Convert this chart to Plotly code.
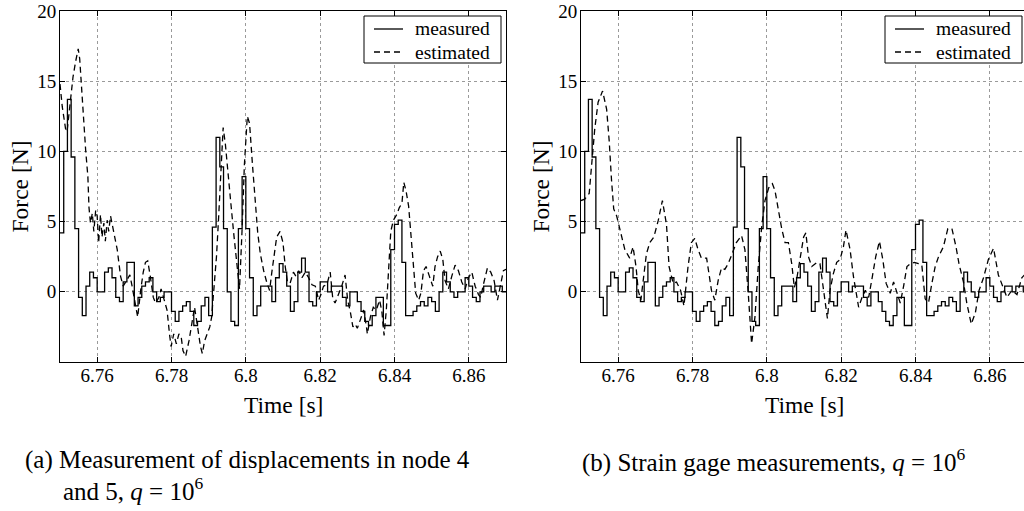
import plotly.graph_objects as go

W, H = 1024, 511

# ---------------- data ----------------
meas_t0 = 6.750
meas_dt = 0.001
measured = [
    4.2, 10.0, 13.7, 9.6, 4.5, -0.4, -1.7, 0.4, 1.4, 1.0,      # 6.750-6.759
    0.0, 0.0, 1.4, 1.7, 1.0, -0.4, -0.7, 0.7, 2.1, 2.1,        # 6.760-6.769
    -1.0, -0.4, 0.4, 0.7, 1.0, 0.0, -0.7, -0.4, 0.0, 0.0,      # 6.770-6.779
    -1.4, -2.1, -1.4, -1.0, -0.7, -1.4, -2.4, -2.1, -1.0, -0.4,  # 6.780-6.789
    -1.7, 4.6, 11.0, 8.9, 4.5, 0.0, -2.1, -2.4, 4.5, 8.2,      # 6.790-6.799
    4.5, 1.0, -1.7, -1.0, 0.4, 0.4, 0.4, -0.7, 1.0, 2.0,       # 6.800-6.809
    1.4, 0.4, -1.4, -0.7, 1.4, 2.4, 1.4, -0.7, -1.0, 0.0,      # 6.810-6.819
    0.7, 0.7, 0.0, 0.4, 0.4, 0.4, -0.4, -1.0, 0.0, 0.0,        # 6.820-6.829
    -0.7, -1.4, -2.1, -2.4, -1.7, -0.4, -0.4, -2.4, -2.4, 3.0,  # 6.830-6.839
    4.8, 5.1, 2.1, -1.7, -1.7, -1.4, -1.0, -0.7, -1.0, -0.4,   # 6.840-6.849
    -0.7, -1.4, 0.0, 1.4, 0.7, 0.0, -0.4, 0.0, 0.0, 1.0,       # 6.850-6.859
    0.4, -0.4, -0.7, 0.0, 0.4, 0.4, 0.0, 0.4, 0.4, 0.0,        # 6.860-6.869
    0.0,                                                       # 6.870
]
time_meas = [round(meas_t0 + meas_dt * i, 4) for i in range(len(measured))]

est_a_t = [
    6.7500, 6.7506, 6.7515, 6.7519, 6.7528, 6.7535, 6.7542, 6.7549, 6.7553, 6.7557,
    6.7562, 6.7569, 6.7575, 6.7578, 6.7582, 6.7587, 6.7591, 6.7596, 6.7600, 6.7604,
    6.7609, 6.7613, 6.7618, 6.7622, 6.7627, 6.7631, 6.7636, 6.7645, 6.7654, 6.7663,
    6.7670, 6.7679, 6.7688, 6.7694, 6.7703, 6.7709, 6.7717, 6.7724, 6.7730, 6.7736,
    6.7743, 6.7751, 6.7757, 6.7766, 6.7772, 6.7779, 6.7788, 6.7795, 6.7799, 6.7806,
    6.7813, 6.7820, 6.7826, 6.7831, 6.7838, 6.7847, 6.7856, 6.7862, 6.7869, 6.7878,
    6.7883, 6.7889, 6.7896, 6.7903, 6.7908, 6.7914, 6.7921, 6.7927, 6.7934, 6.7939,
    6.7945, 6.7950, 6.7959, 6.7968, 6.7977, 6.7983, 6.7990, 6.7996, 6.8004, 6.8010,
    6.8018, 6.8026, 6.8032, 6.8039, 6.8048, 6.8057, 6.8064, 6.8070, 6.8076, 6.8083,
    6.8092, 6.8100, 6.8106, 6.8112, 6.8119, 6.8128, 6.8135, 6.8142, 6.8151, 6.8160,
    6.8169, 6.8178, 6.8187, 6.8196, 6.8202, 6.8209, 6.8218, 6.8227, 6.8234, 6.8240,
    6.8249, 6.8258, 6.8267, 6.8274, 6.8281, 6.8288, 6.8294, 6.8300, 6.8308, 6.8317,
    6.8324, 6.8327, 6.8335, 6.8343, 6.8351, 6.8360, 6.8366, 6.8372, 6.8378, 6.8384,
    6.8390, 6.8397, 6.8406, 6.8413, 6.8420, 6.8425, 6.8431, 6.8438, 6.8444, 6.8451,
    6.8457, 6.8465, 6.8471, 6.8478, 6.8485, 6.8494, 6.8503, 6.8509, 6.8516, 6.8523,
    6.8530, 6.8536, 6.8545, 6.8554, 6.8563, 6.8572, 6.8581, 6.8590, 6.8599, 6.8608,
    6.8617, 6.8626, 6.8632, 6.8639, 6.8650, 6.8659, 6.8668, 6.8677, 6.8686, 6.8693,
    6.8700,
]
est_a_f = [
    14.8, 13.2, 11.6, 11.4, 13.6, 15.3, 16.4, 17.3, 16.6, 14.8,
    12.5, 10.1, 8.2, 6.0, 4.9, 5.6, 4.3, 5.8, 5.4, 3.5,
    5.5, 3.9, 4.9, 3.6, 5.1, 4.3, 5.4, 4.3, 3.0, 1.1,
    0.4, 0.8, 1.2, 0.4, -1.1, -1.8, 0.1, 1.4, 2.1, 2.2,
    1.1, -0.4, -0.8, -0.4, 0.2, -0.4, -1.3, -3.1, -3.9, -3.0,
    -3.7, -3.0, -3.2, -4.2, -4.6, -3.5, -2.0, -1.1, -2.3, -3.9,
    -4.4, -3.5, -3.0, -2.5, -1.8, 0.1, 2.5, 5.4, 9.5, 11.7,
    10.5, 8.9, 6.5, 4.0, 1.5, 0.2, 4.5, 9.0, 12.5, 12.0,
    9.0, 6.0, 4.2, 2.7, 1.5, 0.6, 0.1, 1.4, 2.6, 3.9,
    4.3, 3.5, 1.8, 0.7, 0.6, 1.4, 1.1, 1.5, 1.0, 1.4,
    1.0, 0.5, 0.4, -0.6, -0.2, 0.4, 0.5, 1.4, -0.5, -0.8,
    -0.2, 0.4, 1.2, -0.6, -1.4, -2.5, -2.3, -2.6, -2.0, -1.3,
    -2.4, -3.0, -1.8, -1.1, -1.3, -0.6, -1.4, -3.1, -1.3, 1.5,
    4.3, 5.1, 5.5, 6.0, 6.3, 7.8, 7.2, 6.1, 4.2, 2.0,
    -0.1, -0.6, -0.1, 1.5, 1.8, 1.1, 0.4, 1.8, 2.5, 2.9,
    2.3, 0.8, 0.2, 1.1, 1.9, 1.5, 0.7, 0.2, 1.0, 1.4,
    0.4, -0.2, -0.4, 0.5, 1.7, 1.4, 0.8, -0.6, 0.6, 1.5,
    1.6,
]

est_b_t = [
    6.7500, 6.7510, 6.7522, 6.7528, 6.7537, 6.7546, 6.7558, 6.7569, 6.7576, 6.7582,
    6.7588, 6.7596, 6.7604, 6.7618, 6.7631, 6.7640, 6.7648, 6.7654, 6.7661, 6.7669,
    6.7676, 6.7685, 6.7696, 6.7708, 6.7719, 6.7730, 6.7737, 6.7748, 6.7757, 6.7768,
    6.7777, 6.7788, 6.7797, 6.7806, 6.7815, 6.7824, 6.7838, 6.7851, 6.7860, 6.7869,
    6.7878, 6.7887, 6.7896, 6.7905, 6.7918, 6.7932, 6.7941, 6.7950, 6.7959, 6.7968,
    6.7977, 6.7986, 6.7995, 6.8005, 6.8015, 6.8022, 6.8029, 6.8040, 6.8049, 6.8058,
    6.8067, 6.8074, 6.8081, 6.8090, 6.8099, 6.8105, 6.8112, 6.8121, 6.8135, 6.8143,
    6.8152, 6.8163, 6.8170, 6.8179, 6.8188, 6.8197, 6.8206, 6.8213, 6.8224, 6.8233,
    6.8247, 6.8256, 6.8265, 6.8274, 6.8284, 6.8293, 6.8303, 6.8312, 6.8321, 6.8332,
    6.8341, 6.8350, 6.8359, 6.8368, 6.8377, 6.8386, 6.8397, 6.8408, 6.8417, 6.8426,
    6.8435, 6.8444, 6.8453, 6.8462, 6.8475, 6.8487, 6.8498, 6.8509, 6.8517, 6.8529,
    6.8538, 6.8550, 6.8561, 6.8571, 6.8583, 6.8596, 6.8610, 6.8623, 6.8637, 6.8646,
    6.8659, 6.8673, 6.8686, 6.8700,
]
est_b_f = [
    6.5, 6.6, 7.0, 8.8, 11.6, 13.5, 14.3, 13.0, 10.7, 8.0,
    5.9, 5.4, 4.6, 3.0, 2.4, 3.2, 1.8, 0.1, -0.6, 1.1,
    2.7, 3.5, 3.9, 5.1, 6.5, 4.8, 1.8, 0.6, 0.7, 0.1,
    -1.0, 1.8, 3.5, 3.8, 3.0, 2.4, 2.4, 0.1, -0.6, 0.8,
    1.7, 1.6, 2.0, 2.6, 3.5, 4.0, 3.0, -0.1, -3.7, -1.8,
    1.8, 4.6, 6.5, 7.4, 7.7, 7.2, 6.1, 4.5, 3.5, 3.5,
    2.0, 0.3, 1.0, 2.3, 3.9, 4.2, 2.5, 1.8, 2.1, 2.0,
    0.1, -1.9, 0.1, 1.3, 2.1, 2.3, 3.2, 4.4, 3.0, 1.1,
    -1.1, -0.4, 0.1, -0.4, 1.1, 2.5, 3.6, 2.3, 0.6, -0.1,
    0.7, 0.0, -0.8, 0.4, 1.8, 2.0, 2.1, 2.0, 1.9, -0.5,
    -0.8, 0.6, 1.8, 2.5, 3.2, 4.5, 4.5, 3.2, 2.0, 0.7,
    -0.8, -2.3, -1.5, 0.1, 1.0, 2.3, 3.1, 1.2, 0.2, -0.4,
    0.1, -0.2, 1.0, 1.4,
]

x_tickvals = [6.76, 6.78, 6.80, 6.82, 6.84, 6.86]
x_ticktext = ["6.76", "6.78", "6.8", "6.82", "6.84", "6.86"]
y_tickvals = [0, 5, 10, 15, 20]
y_ticktext = ["0", "5", "10", "15", "20"]
series_names = ["measured", "estimated"]
x_title = "Time [s]"
y_title = "Force [N]"
caption_a1 = "(a) Measurement of displacements in node 4"
caption_a2 = "and 5, <i>q</i> = 10<sup>6</sup>"
caption_b = "(b) Strain gage measurements, <i>q</i> = 10<sup>6</sup>"

# ---------------- layout geometry ----------------
FONT = "Liberation Serif, Times New Roman, serif"
px_x = lambda p: p / W
px_y = lambda p: 1 - p / H

plot_top, plot_bot = 11, 362
ax1_l, ax1_r = 60, 506
ax2_l = 581
px_per_s = (ax1_r - ax1_l) / 0.12
x2_max = 6.75 + (W - ax2_l) / px_per_s

fig = go.Figure()

line_solid = dict(color="black", width=1.3)
line_dash = dict(color="black", width=1.3, dash="6px,4px")

fig.add_trace(go.Scatter(x=time_meas, y=measured, mode="lines", line=line_solid,
                         line_shape="hv", name=series_names[0], xaxis="x", yaxis="y"))
fig.add_trace(go.Scatter(x=est_a_t, y=est_a_f, mode="lines", line=line_dash,
                         name=series_names[1], xaxis="x", yaxis="y"))
fig.add_trace(go.Scatter(x=time_meas, y=measured, mode="lines", line=line_solid,
                         line_shape="hv", name=series_names[0], xaxis="x2", yaxis="y2"))
fig.add_trace(go.Scatter(x=est_b_t, y=est_b_f, mode="lines", line=line_dash,
                         name=series_names[1], xaxis="x2", yaxis="y2"))

tickfont = dict(family=FONT, size=19, color="black")
common_x = dict(tickvals=x_tickvals, ticktext=x_ticktext, ticks="inside", ticklen=5,
                tickcolor="black", showline=True, linecolor="black", linewidth=1,
                showgrid=True, gridcolor="#9a9a9a", griddash="dot", gridwidth=1,
                zeroline=False, tickfont=tickfont, automargin=False,
                ticklabelstandoff=-4)
common_y = dict(tickvals=y_tickvals, ticktext=y_ticktext, ticks="inside", ticklen=5,
                tickcolor="black", showline=True, linecolor="black", linewidth=1,
                showgrid=True, gridcolor="#9a9a9a", griddash="dot", gridwidth=1,
                zeroline=False, tickfont=tickfont, range=[-5, 20], automargin=False,
                ticklabelstandoff=-1)

ydom = [px_y(plot_bot), px_y(plot_top)]

fig.update_layout(
    template="none",
    width=W, height=H,
    margin=dict(l=0, r=0, t=0, b=0, pad=0, autoexpand=False),
    paper_bgcolor="white", plot_bgcolor="white",
    font=dict(family=FONT, color="black"),
    xaxis=dict(common_x, domain=[px_x(ax1_l), px_x(ax1_r)], range=[6.75, 6.87],
               anchor="y", mirror="allticks"),
    yaxis=dict(common_y, domain=ydom, anchor="x", mirror="allticks"),
    xaxis2=dict(common_x, domain=[px_x(ax2_l), 1.0], range=[6.75, x2_max],
                anchor="y2", mirror="allticks"),
    yaxis2=dict(common_y, domain=ydom, anchor="x2", mirror=False),
    showlegend=False,
)

# ---------------- legend boxes (one per panel) ----------------
legend_boxes = [  # (left, right, top, bottom) in pixels
    (364, 501, 16, 63),
    (885, 1022, 16, 63),
]
shapes = []
annotations = []
legend_font = dict(family=FONT, size=19.5, color="black")
for (l, r, t, b) in legend_boxes:
    shapes.append(dict(type="rect", xref="paper", yref="paper", layer="above",
                       x0=px_x(l), x1=px_x(r), y0=px_y(b), y1=px_y(t),
                       line=dict(color="black", width=1), fillcolor="white"))
    for k, (name, style) in enumerate(zip(series_names, [line_solid, line_dash])):
        yy = px_y(t + 13 + 23 * k)
        shapes.append(dict(type="line", xref="paper", yref="paper", layer="above",
                           x0=px_x(l + 10), x1=px_x(l + 39), y0=yy, y1=yy,
                           line=style))
        annotations.append(dict(text=name, x=px_x(l + 49), y=px_y(t + 13 + 23 * k),
                                xanchor="left", font=legend_font))

label_font = dict(family=FONT, size=23.5, color="black")
cap_font = dict(family=FONT, size=25, color="black")

annotations += [
    dict(text=x_title, x=px_x((ax1_l + ax1_r) / 2), y=px_y(405), font=label_font),
    dict(text=x_title, x=px_x(804), y=px_y(405), font=label_font),
    dict(text=y_title, x=px_x(19), y=px_y((plot_top + plot_bot) / 2), textangle=-90,
         font=label_font),
    dict(text=y_title, x=px_x(540), y=px_y((plot_top + plot_bot) / 2), textangle=-90,
         font=label_font),
    dict(text=caption_a1, x=px_x(23), y=px_y(460), xanchor="left", font=cap_font),
    dict(text=caption_a2, x=px_x(61), y=px_y(489), xanchor="left", font=cap_font),
    dict(text=caption_b, x=px_x(773), y=px_y(460), font=cap_font),
]
for a in annotations:
    a.setdefault("xanchor", "center")
    a.update(xref="paper", yref="paper", yanchor="middle", showarrow=False)
fig.update_layout(annotations=annotations, shapes=shapes)

fig.write_html("out.html", config={"displayModeBar": False},
               post_script="document.body.style.margin='0';document.body.style.overflow='hidden';")
